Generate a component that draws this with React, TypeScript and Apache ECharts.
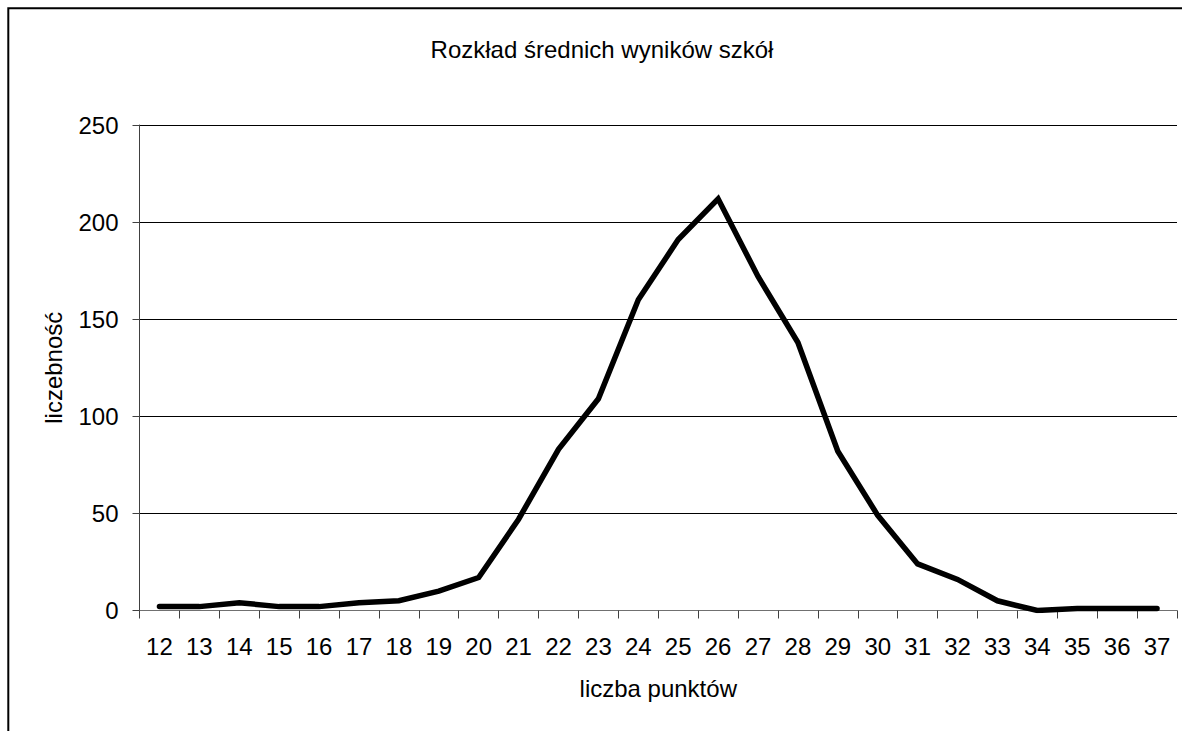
import React, { useEffect, useRef } from "react";
import * as echarts from "echarts";

const titleText = "Rozkład średnich wyników szkół";
const xAxisName = "liczba punktów";
const yAxisName = "liczebność";
const categories = [
  "12", "13", "14", "15", "16", "17", "18", "19", "20", "21", "22", "23", "24",
  "25", "26", "27", "28", "29", "30", "31", "32", "33", "34", "35", "36", "37",
];
const counts = [
  2, 2, 4, 2, 2, 4, 5, 10, 17, 47, 83, 109, 160,
  191, 212, 172, 138, 82, 49, 24, 16, 5, 0, 1, 1, 1,
];
const yMin = 0;
const yMax = 250;
const yStep = 50;

const FONT = "'Liberation Sans', Arial, sans-serif";

export default function App() {
  const ref = useRef<HTMLDivElement>(null);
  useEffect(() => {
    if (!ref.current) return;
    const chart = echarts.init(ref.current, undefined, { renderer: "svg" });
    chart.setOption({
      animation: false,
      backgroundColor: "#ffffff",
      textStyle: { fontFamily: FONT },
      title: {
        text: titleText,
        left: 597,
        top: 32,
        textAlign: "center",
        textStyle: { fontFamily: FONT, fontSize: 24, fontWeight: "normal", color: "#000" },
      },
      graphic: [
        {
          type: "rect",
          shape: { x: 8.3, y: 8.3, width: 3000, height: 3000 },
          style: { fill: "none", stroke: "#000", lineWidth: 2 },
          silent: true,
          z: 100,
        },
      ],
      grid: { left: 139.5, right: 5, top: 125, bottom: 120.5, containLabel: false },
      xAxis: {
        type: "category",
        data: categories,
        boundaryGap: true,
        name: xAxisName,
        nameLocation: "middle",
        nameGap: 66,
        nameTextStyle: { fontFamily: FONT, fontSize: 24, color: "#000" },
        axisLine: { lineStyle: { color: "#707070", width: 1 } },
        axisTick: { show: true, length: 8, inside: false, lineStyle: { color: "#404040" } },
        axisLabel: { fontFamily: FONT, fontSize: 24, color: "#000", margin: 24, interval: 0 },
        splitLine: { show: false },
      },
      yAxis: {
        type: "value",
        min: yMin,
        max: yMax,
        interval: yStep,
        name: yAxisName,
        nameLocation: "middle",
        nameGap: 74,
        nameRotate: 90,
        nameTextStyle: { fontFamily: FONT, fontSize: 24, color: "#000" },
        axisLine: { show: true, lineStyle: { color: "#404040", width: 1 } },
        axisTick: { show: true, length: 7, inside: false, lineStyle: { color: "#404040" } },
        axisLabel: { fontFamily: FONT, fontSize: 24, color: "#000", margin: 21 },
        splitLine: { show: true, lineStyle: { color: "#000", width: 1 } },
      },
      series: [
        {
          type: "line",
          data: counts,
          symbol: "none",
          smooth: false,
          lineStyle: { color: "#000", width: 5.5, cap: "round", join: "miter" },
          z: 10,
        },
      ],
    });
    return () => chart.dispose();
  }, []);
  return (
    <div
      ref={ref}
      style={{ position: "absolute", left: 0, top: 0, width: 1182, height: 731, background: "#fff" }}
    />
  );
}
